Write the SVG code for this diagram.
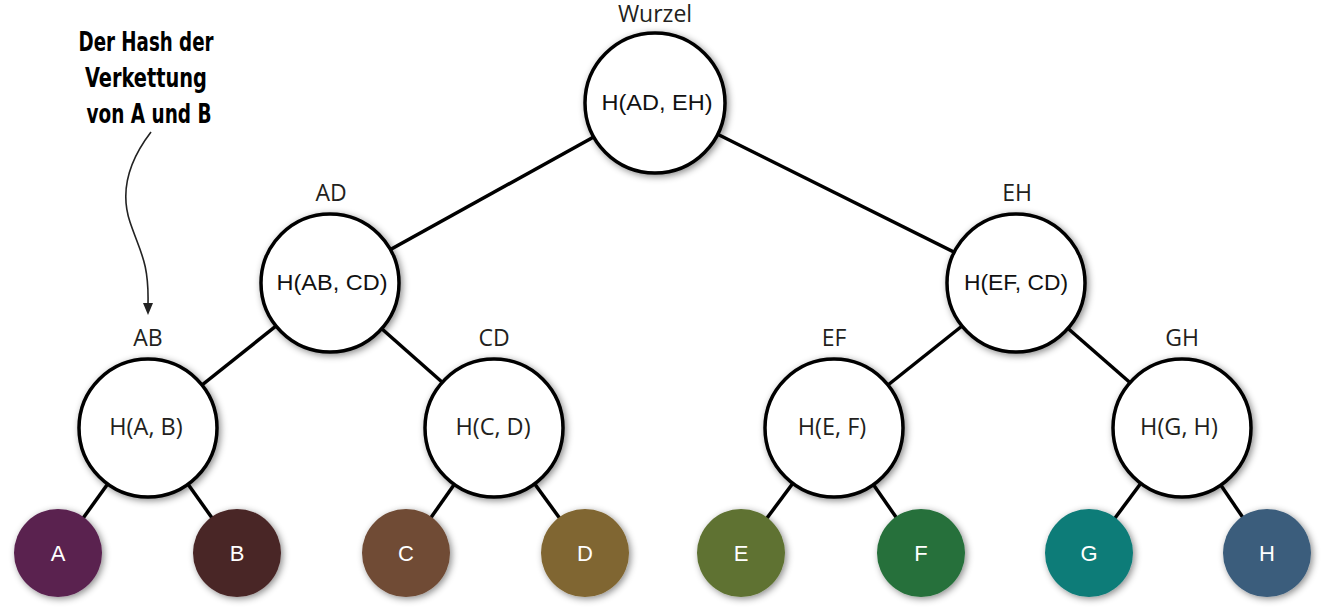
<svg xmlns="http://www.w3.org/2000/svg" width="1325" height="611" viewBox="0 0 1325 611">
<defs>
<filter id="sh" x="-30%" y="-30%" width="160%" height="160%">
<feDropShadow dx="2" dy="2" stdDeviation="3.5" flood-color="#000" flood-opacity="0.45"/>
</filter>
</defs>
<style>
.edge{stroke:#000;stroke-width:3.5;fill:none}
.hash{fill:#fff;stroke:#000;stroke-width:3.5;filter:url(#sh)}
.leaf{filter:url(#sh)}
.lbl{font-family:"Open Sans","DejaVu Sans",sans-serif;font-size:23px;fill:#231f20;text-anchor:middle}
.inA{font-family:"Liberation Sans",Arial,sans-serif;font-size:22px;fill:#111;text-anchor:middle}
.inM{font-family:"Open Sans","DejaVu Sans",sans-serif;font-size:23.5px;fill:#231f20;text-anchor:middle}
.lt{font-family:"Liberation Sans",Arial,sans-serif;font-size:22px;fill:#fff;text-anchor:middle}
.ann{font-family:"Liberation Sans Narrow","DejaVu Sans Condensed","Liberation Sans",sans-serif;font-weight:bold;font-size:26px;fill:#000;text-anchor:middle}
</style>
<rect width="1325" height="611" fill="#fff"/>
<g id="connectors">
<line class="edge" x1="655" y1="103" x2="330" y2="283"/>
<line class="edge" x1="655" y1="103" x2="1016" y2="283"/>
<line class="edge" x1="330" y1="283" x2="148" y2="428"/>
<line class="edge" x1="330" y1="283" x2="494" y2="428"/>
<line class="edge" x1="1016" y1="283" x2="834" y2="428"/>
<line class="edge" x1="1016" y1="283" x2="1182" y2="428"/>
<line class="edge" x1="148" y1="428" x2="58" y2="553"/>
<line class="edge" x1="148" y1="428" x2="237" y2="553"/>
<line class="edge" x1="494" y1="428" x2="406" y2="553"/>
<line class="edge" x1="494" y1="428" x2="585" y2="553"/>
<line class="edge" x1="834" y1="428" x2="741" y2="553"/>
<line class="edge" x1="834" y1="428" x2="921" y2="553"/>
<line class="edge" x1="1182" y1="428" x2="1089" y2="553"/>
<line class="edge" x1="1182" y1="428" x2="1267" y2="553"/>
<path d="M151,132 C128,162 120,192 130,222 C140,252 149,262 148,304 L148,306" stroke="#222" stroke-width="1.6" fill="none"/>
<path d="M143,303 L153,303 L148,315 Z" fill="#222"/>
</g>
<g id="annotation">
<text class="ann" x="146" y="51" textLength="135" lengthAdjust="spacingAndGlyphs">Der Hash der</text>
<text class="ann" x="146" y="87" textLength="122" lengthAdjust="spacingAndGlyphs">Verkettung</text>
<text class="ann" x="149" y="123" textLength="125" lengthAdjust="spacingAndGlyphs">von A und B</text>
</g>
<g id="root">
<text class="lbl" x="655" y="22">Wurzel</text>
<circle class="hash" cx="655" cy="103" r="70"/>
<text class="inA" x="657" y="110" textLength="111" lengthAdjust="spacingAndGlyphs">H(AD, EH)</text>
</g>
<g id="AD">
<text class="lbl" x="331" y="201">AD</text>
<circle class="hash" cx="330" cy="283" r="69"/>
<text class="inA" x="332" y="290" textLength="111" lengthAdjust="spacingAndGlyphs">H(AB, CD)</text>
</g>
<g id="EH">
<text class="lbl" x="1017" y="201">EH</text>
<circle class="hash" cx="1016" cy="283" r="69"/>
<text class="inA" x="1016" y="290" textLength="104" lengthAdjust="spacingAndGlyphs">H(EF, CD)</text>
</g>
<g id="AB">
<text class="lbl" x="148" y="346">AB</text>
<circle class="hash" cx="148" cy="428" r="69"/>
<text class="inM" x="146" y="435">H(A, B)</text>
</g>
<g id="CD">
<text class="lbl" x="494" y="346">CD</text>
<circle class="hash" cx="494" cy="428" r="69"/>
<text class="inM" x="493" y="435">H(C, D)</text>
</g>
<g id="EF">
<text class="lbl" x="834" y="346">EF</text>
<circle class="hash" cx="834" cy="428" r="69"/>
<text class="inM" x="832" y="435">H(E, F)</text>
</g>
<g id="GH">
<text class="lbl" x="1182" y="346">GH</text>
<circle class="hash" cx="1182" cy="428" r="69"/>
<text class="inM" x="1179" y="435">H(G, H)</text>
</g>
<g id="A"><circle class="leaf" cx="58" cy="553" r="44" fill="#5a2150"/><text class="lt" x="58" y="561">A</text></g>
<g id="B"><circle class="leaf" cx="237" cy="553" r="44" fill="#4a2626"/><text class="lt" x="237" y="561">B</text></g>
<g id="C"><circle class="leaf" cx="406" cy="553" r="44" fill="#6f4b36"/><text class="lt" x="406" y="561">C</text></g>
<g id="D"><circle class="leaf" cx="585" cy="553" r="44" fill="#806631"/><text class="lt" x="585" y="561">D</text></g>
<g id="E"><circle class="leaf" cx="741" cy="553" r="44" fill="#5f7232"/><text class="lt" x="741" y="561">E</text></g>
<g id="F"><circle class="leaf" cx="921" cy="553" r="44" fill="#26703b"/><text class="lt" x="921" y="561">F</text></g>
<g id="G"><circle class="leaf" cx="1089" cy="553" r="44" fill="#117b78"/><text class="lt" x="1089" y="561">G</text></g>
<g id="H"><circle class="leaf" cx="1267" cy="553" r="44" fill="#3b5d7b"/><text class="lt" x="1267" y="561">H</text></g>
</svg>
